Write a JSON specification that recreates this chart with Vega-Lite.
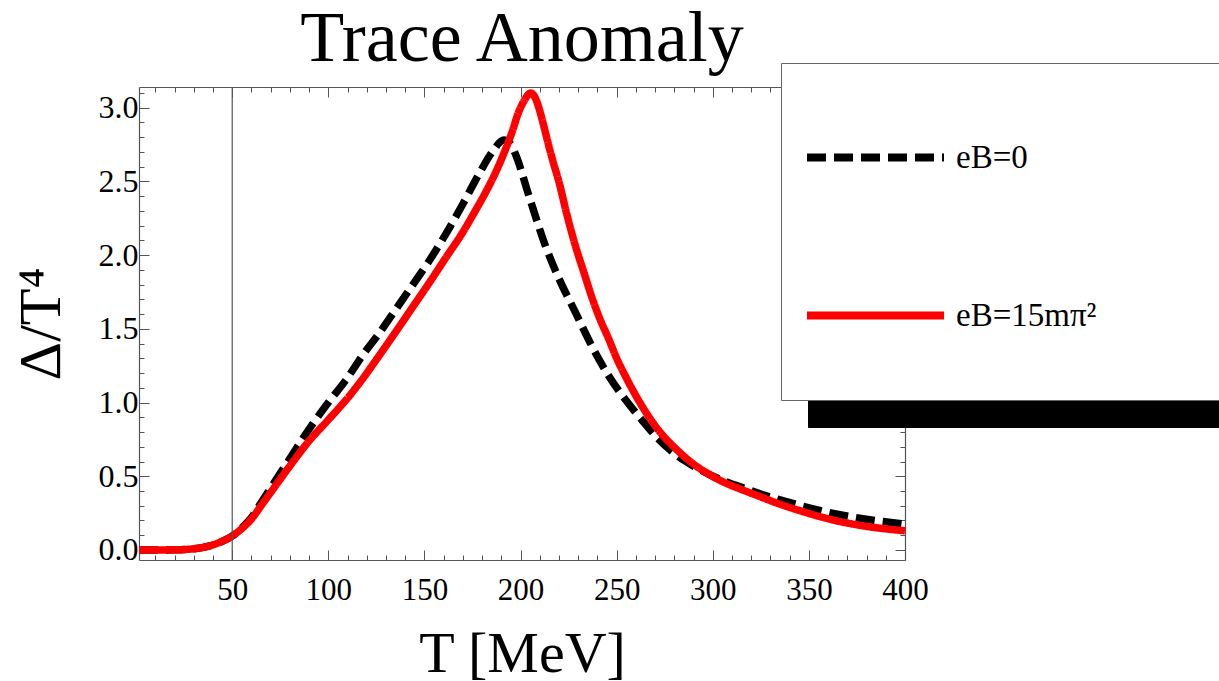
{
  "$schema": "https://vega.github.io/schema/vega-lite/v6.json",
  "width": 766,
  "height": 473,
  "autosize": {"type": "none"},
  "padding": {"left": 139, "top": 87, "right": 314, "bottom": 121},
  "background": "white",
  "title": {"text": "Trace Anomaly", "font": "Liberation Serif", "fontSize": 72, "fontWeight": "normal", "color": "black", "frame": "group", "anchor": "middle", "baseline": "alphabetic", "offset": -70},
  "config": {"view": {"stroke": null}},
  "data": {"values": [
    {"T": 1.5, "v": 0.0, "s": "eB=0"},
    {"T": 20, "v": 0.001, "s": "eB=0"},
    {"T": 30, "v": 0.008, "s": "eB=0"},
    {"T": 35, "v": 0.018, "s": "eB=0"},
    {"T": 40, "v": 0.035, "s": "eB=0"},
    {"T": 45, "v": 0.06, "s": "eB=0"},
    {"T": 50, "v": 0.095, "s": "eB=0"},
    {"T": 55, "v": 0.15, "s": "eB=0"},
    {"T": 60, "v": 0.22, "s": "eB=0"},
    {"T": 65, "v": 0.32, "s": "eB=0"},
    {"T": 70, "v": 0.42, "s": "eB=0"},
    {"T": 80, "v": 0.62, "s": "eB=0"},
    {"T": 90, "v": 0.82, "s": "eB=0"},
    {"T": 100, "v": 1.0, "s": "eB=0"},
    {"T": 109, "v": 1.15, "s": "eB=0"},
    {"T": 117.8, "v": 1.32, "s": "eB=0"},
    {"T": 126.5, "v": 1.47, "s": "eB=0"},
    {"T": 135, "v": 1.63, "s": "eB=0"},
    {"T": 144, "v": 1.8, "s": "eB=0"},
    {"T": 152.4, "v": 1.96, "s": "eB=0"},
    {"T": 161, "v": 2.14, "s": "eB=0"},
    {"T": 169.7, "v": 2.34, "s": "eB=0"},
    {"T": 178.4, "v": 2.55, "s": "eB=0"},
    {"T": 185.3, "v": 2.7, "s": "eB=0"},
    {"T": 191.4, "v": 2.78, "s": "eB=0"},
    {"T": 195, "v": 2.75, "s": "eB=0"},
    {"T": 197.5, "v": 2.68, "s": "eB=0"},
    {"T": 204.4, "v": 2.4, "s": "eB=0"},
    {"T": 213, "v": 2.06, "s": "eB=0"},
    {"T": 220, "v": 1.84, "s": "eB=0"},
    {"T": 228.6, "v": 1.61, "s": "eB=0"},
    {"T": 237.2, "v": 1.38, "s": "eB=0"},
    {"T": 245.9, "v": 1.18, "s": "eB=0"},
    {"T": 254.5, "v": 1.02, "s": "eB=0"},
    {"T": 263.2, "v": 0.88, "s": "eB=0"},
    {"T": 271.9, "v": 0.75, "s": "eB=0"},
    {"T": 280.5, "v": 0.65, "s": "eB=0"},
    {"T": 289.2, "v": 0.575, "s": "eB=0"},
    {"T": 297.8, "v": 0.515, "s": "eB=0"},
    {"T": 306.5, "v": 0.465, "s": "eB=0"},
    {"T": 315, "v": 0.425, "s": "eB=0"},
    {"T": 327, "v": 0.37, "s": "eB=0"},
    {"T": 344.5, "v": 0.305, "s": "eB=0"},
    {"T": 362, "v": 0.25, "s": "eB=0"},
    {"T": 379, "v": 0.21, "s": "eB=0"},
    {"T": 400, "v": 0.175, "s": "eB=0"},
    {"T": 1.5, "v": 0.0, "s": "eB=15mπ²"},
    {"T": 20, "v": 0.001, "s": "eB=15mπ²"},
    {"T": 30, "v": 0.008, "s": "eB=15mπ²"},
    {"T": 35, "v": 0.018, "s": "eB=15mπ²"},
    {"T": 40, "v": 0.035, "s": "eB=15mπ²"},
    {"T": 45, "v": 0.06, "s": "eB=15mπ²"},
    {"T": 50, "v": 0.095, "s": "eB=15mπ²"},
    {"T": 55, "v": 0.145, "s": "eB=15mπ²"},
    {"T": 60, "v": 0.21, "s": "eB=15mπ²"},
    {"T": 65, "v": 0.3, "s": "eB=15mπ²"},
    {"T": 70, "v": 0.39, "s": "eB=15mπ²"},
    {"T": 80, "v": 0.57, "s": "eB=15mπ²"},
    {"T": 90, "v": 0.74, "s": "eB=15mπ²"},
    {"T": 100.5, "v": 0.89, "s": "eB=15mπ²"},
    {"T": 110, "v": 1.03, "s": "eB=15mπ²"},
    {"T": 117.8, "v": 1.16, "s": "eB=15mπ²"},
    {"T": 126, "v": 1.31, "s": "eB=15mπ²"},
    {"T": 135.1, "v": 1.48, "s": "eB=15mπ²"},
    {"T": 144, "v": 1.65, "s": "eB=15mπ²"},
    {"T": 152.4, "v": 1.81, "s": "eB=15mπ²"},
    {"T": 161, "v": 1.98, "s": "eB=15mπ²"},
    {"T": 169.7, "v": 2.15, "s": "eB=15mπ²"},
    {"T": 176, "v": 2.29, "s": "eB=15mπ²"},
    {"T": 182, "v": 2.43, "s": "eB=15mπ²"},
    {"T": 187, "v": 2.56, "s": "eB=15mπ²"},
    {"T": 191, "v": 2.68, "s": "eB=15mπ²"},
    {"T": 195.7, "v": 2.84, "s": "eB=15mπ²"},
    {"T": 199, "v": 2.97, "s": "eB=15mπ²"},
    {"T": 202, "v": 3.05, "s": "eB=15mπ²"},
    {"T": 205.2, "v": 3.1, "s": "eB=15mπ²"},
    {"T": 207.5, "v": 3.07, "s": "eB=15mπ²"},
    {"T": 209.5, "v": 3.0, "s": "eB=15mπ²"},
    {"T": 212, "v": 2.88, "s": "eB=15mπ²"},
    {"T": 214.7, "v": 2.74, "s": "eB=15mπ²"},
    {"T": 217, "v": 2.63, "s": "eB=15mπ²"},
    {"T": 219.9, "v": 2.5, "s": "eB=15mπ²"},
    {"T": 224, "v": 2.28, "s": "eB=15mπ²"},
    {"T": 228.6, "v": 2.06, "s": "eB=15mπ²"},
    {"T": 233, "v": 1.88, "s": "eB=15mπ²"},
    {"T": 237.2, "v": 1.71, "s": "eB=15mπ²"},
    {"T": 241.5, "v": 1.56, "s": "eB=15mπ²"},
    {"T": 245.9, "v": 1.43, "s": "eB=15mπ²"},
    {"T": 250, "v": 1.3, "s": "eB=15mπ²"},
    {"T": 254.5, "v": 1.18, "s": "eB=15mπ²"},
    {"T": 263, "v": 0.98, "s": "eB=15mπ²"},
    {"T": 271.9, "v": 0.81, "s": "eB=15mπ²"},
    {"T": 280.5, "v": 0.69, "s": "eB=15mπ²"},
    {"T": 289.2, "v": 0.59, "s": "eB=15mπ²"},
    {"T": 297.8, "v": 0.515, "s": "eB=15mπ²"},
    {"T": 306.5, "v": 0.455, "s": "eB=15mπ²"},
    {"T": 315, "v": 0.41, "s": "eB=15mπ²"},
    {"T": 324, "v": 0.365, "s": "eB=15mπ²"},
    {"T": 334, "v": 0.315, "s": "eB=15mπ²"},
    {"T": 344.5, "v": 0.27, "s": "eB=15mπ²"},
    {"T": 362, "v": 0.205, "s": "eB=15mπ²"},
    {"T": 379, "v": 0.162, "s": "eB=15mπ²"},
    {"T": 400, "v": 0.13, "s": "eB=15mπ²"}
  ]},
  "resolve": {"axis": {"x": "independent", "y": "independent"}, "legend": {"color": "independent", "strokeDash": "independent"}},
  "layer": [
    {
      "mark": {"type": "line", "opacity": 0, "strokeWidth": 8},
      "encoding": {
        "x": {"field": "T", "type": "quantitative", "scale": {"domain": [1.5, 400], "nice": false, "zero": false}, "axis": null},
        "y": {"field": "v", "type": "quantitative", "scale": {"domain": [-0.068, 3.14], "nice": false, "zero": false},
          "axis": {"orient": "right", "values": [0,0.1,0.2,0.3,0.4,0.5,0.6,0.7,0.8,0.9,1,1.1,1.2,1.3,1.4,1.5,1.6,1.7,1.8,1.9,2,2.1,2.2,2.3,2.4,2.5,2.6,2.7,2.8,2.9,3,3.1],
            "labels": false, "title": null, "grid": false, "domainColor": "#555", "tickColor": "#555", "domainWidth": 1.2,
            "tickSize": {"condition": {"test": "abs(datum.value*2 - round(datum.value*2)) < 0.001", "value": -10}, "value": -5}}},
        "color": {"field": "s", "type": "nominal", "scale": {"domain": ["eB=0", "eB=15mπ²"], "range": ["#000000", "#ff0000"]},
          "legend": {"orient": "none", "legendX": 669, "legendY": 3, "title": " ", "titleOrient": "bottom", "titleFontSize": 20, "titlePadding": 25, "fillColor": "#000000", "strokeColor": "#000000",
            "padding": 22, "symbolType": "stroke", "symbolSize": 18769, "symbolStrokeWidth": 8, "symbolOpacity": 0, "rowPadding": 68, "labelOffset": 8,
            "labelFont": "Liberation Serif", "labelFontSize": 33, "labelColor": "#000000", "labelLimit": 0,
            "labelExpr": "datum.label + '\u00a0\u00a0\u00a0\u00a0\u00a0\u00a0\u00a0\u00a0\u00a0\u00a0\u00a0\u00a0\u00a0\u00a0\u00a0\u00a0\u00a0\u00a0\u00a0\u00a0\u00a0\u00a0\u00a0\u00a0\u200b'"}}
      }
    },
    {
      "mark": {"type": "line", "strokeWidth": 7.5, "interpolate": "monotone"},
      "encoding": {
        "x": {"field": "T", "type": "quantitative",
          "axis": {"orient": "bottom", "values": [10,20,30,40,50,60,70,80,90,100,110,120,130,140,150,160,170,180,190,200,210,220,230,240,250,260,270,280,290,300,310,320,330,340,350,360,370,380,390,400],
            "labelExpr": "datum.value % 50 === 0 ? datum.label : ''", "format": "d", "labelFlush": false, "labelOverlap": false,
            "labelFont": "Liberation Serif", "labelFontSize": 31, "labelColor": "#000000", "labelPadding": 25,
            "title": "T [MeV]", "titleFont": "Liberation Serif", "titleFontSize": 58, "titleFontWeight": "normal", "titleColor": "#000000", "titlePadding": 15,
            "grid": false, "domainColor": "#555", "tickColor": "#555", "domainWidth": 1.2,
            "tickSize": {"condition": {"test": "datum.value % 50 === 0", "value": -10}, "value": -5}}},
        "y": {"field": "v", "type": "quantitative",
          "axis": {"orient": "left", "values": [0,0.1,0.2,0.3,0.4,0.5,0.6,0.7,0.8,0.9,1,1.1,1.2,1.3,1.4,1.5,1.6,1.7,1.8,1.9,2,2.1,2.2,2.3,2.4,2.5,2.6,2.7,2.8,2.9,3,3.1],
            "labelExpr": "abs(datum.value*2 - round(datum.value*2)) < 0.001 ? format(datum.value, '.1f') : ''", "labelOverlap": false, "labelFlush": false,
            "labelFont": "Liberation Serif", "labelFontSize": 32, "labelColor": "#000000", "labelPadding": 11,
            "title": "Δ/T⁴", "titleFont": "Liberation Serif", "titleFontSize": 60, "titleFontWeight": "normal", "titleColor": "#000000", "titlePadding": 26,
            "grid": false, "domainColor": "#555", "tickColor": "#555", "domainWidth": 1.2,
            "tickSize": {"condition": {"test": "abs(datum.value*2 - round(datum.value*2)) < 0.001", "value": -10}, "value": -5}}},
        "color": {"field": "s", "type": "nominal",
          "legend": {"orient": "none", "legendX": 642, "legendY": -24, "title": " ", "titleOrient": "bottom", "titleFontSize": 20, "titlePadding": 25, "fillColor": "#ffffff", "strokeColor": "#666666",
            "padding": 22, "symbolType": "stroke", "symbolSize": 18769, "symbolStrokeWidth": 8, "rowPadding": 68, "labelOffset": 8,
            "labelFont": "Liberation Serif", "labelFontSize": 33, "labelColor": "#000000", "labelLimit": 0,
            "labelExpr": "datum.label + '\u00a0\u00a0\u00a0\u00a0\u00a0\u00a0\u00a0\u00a0\u00a0\u00a0\u00a0\u00a0\u00a0\u00a0\u00a0\u00a0\u00a0\u00a0\u00a0\u00a0\u00a0\u00a0\u00a0\u00a0\u200b'"}},
        "strokeDash": {"field": "s", "type": "nominal", "scale": {"domain": ["eB=0", "eB=15mπ²"], "range": [[19, 8], [1, 0]]},
          "legend": {"orient": "none", "legendX": 642, "legendY": -24, "title": " ", "titleOrient": "bottom", "titleFontSize": 20, "titlePadding": 25, "fillColor": "#ffffff", "strokeColor": "#666666",
            "padding": 22, "symbolType": "stroke", "symbolSize": 18769, "symbolStrokeWidth": 8, "rowPadding": 68, "labelOffset": 8,
            "labelFont": "Liberation Serif", "labelFontSize": 33, "labelColor": "#000000", "labelLimit": 0,
            "labelExpr": "datum.label + '\u00a0\u00a0\u00a0\u00a0\u00a0\u00a0\u00a0\u00a0\u00a0\u00a0\u00a0\u00a0\u00a0\u00a0\u00a0\u00a0\u00a0\u00a0\u00a0\u00a0\u00a0\u00a0\u00a0\u00a0\u200b'"}}
      }
    },
    {
      "data": {"values": [{"T": 50}]},
      "mark": {"type": "rule", "color": "#555", "strokeWidth": 1.2},
      "encoding": {
        "x": {"field": "T", "type": "quantitative",
          "axis": {"orient": "top", "values": [10,20,30,40,50,60,70,80,90,100,110,120,130,140,150,160,170,180,190,200,210,220,230,240,250,260,270,280,290,300,310,320,330,340,350,360,370,380,390,400],
            "labels": false, "title": null, "grid": false, "domainColor": "#555", "tickColor": "#555", "domainWidth": 1.2,
            "tickSize": {"condition": {"test": "datum.value % 50 === 0", "value": -10}, "value": -5}}}
      }
    }
  ]
}
